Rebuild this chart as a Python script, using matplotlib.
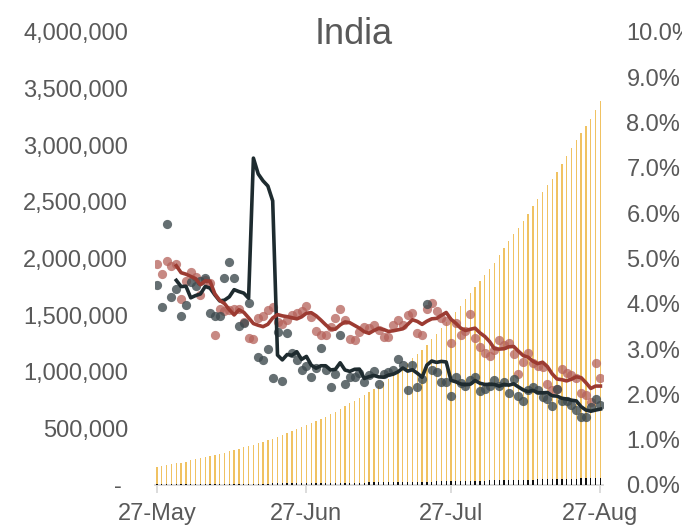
import numpy as np
import pandas as pd
import matplotlib
matplotlib.use("Agg")
import matplotlib.pyplot as plt
import matplotlib.dates as mdates
from matplotlib.ticker import FuncFormatter, MultipleLocator

plt.rcParams["font.family"] = ["Liberation Sans", "DejaVu Sans"]

# daily data, 27 May .. 27 Aug
dates = pd.date_range("2020-05-27", "2020-08-27", freq="D")

total_cases = [
    158086, 165386, 173491, 181827, 190609, 198370, 207191, 216824, 226713, 236184,
    246622, 257486, 265928, 276146, 286605, 297535, 308993, 320922, 332424, 343091,
    354065, 366946, 380532, 395048, 410451, 425282, 440215, 456183, 473105, 490401,
    508953, 528859, 548318, 566840, 585481, 604641, 625544, 648315, 673165, 697413,
    719665, 742417, 767296, 793802, 820916, 849553, 878254, 906752, 936181, 968857,
    1003832, 1038716, 1077781, 1118043, 1155338, 1193078, 1238635, 1288108, 1337024, 1385494,
    1435616, 1480073, 1531669, 1583792, 1638870, 1695988, 1750723, 1803695, 1855745, 1908254,
    1964536, 2027074, 2088611, 2153010, 2215074, 2268675, 2329638, 2396637, 2461190, 2526192,
    2589682, 2647663, 2702742, 2767273, 2836925, 2905825, 2975701, 3044940, 3106348, 3167323,
    3234474, 3310234, 3387500,
]

total_deaths = [
    4531, 4706, 4971, 5185, 5408, 5608, 5829, 6088, 6363, 6649,
    6946, 7207, 7473, 7750, 8102, 8498, 8884, 9195, 9520, 9900,
    11903, 12237, 12573, 12948, 13254, 13699, 14011, 14476, 14894, 15301,
    15685, 16095, 16475, 16893, 17400, 17834, 18213, 18655, 19268, 19693,
    20160, 20642, 21129, 21604, 22123, 22674, 23174, 23727, 24309, 24914,
    25602, 26273, 26816, 27497, 28084, 28732, 29861, 30601, 31358, 32063,
    32771, 33408, 34193, 34968, 35747, 36511, 37364, 38135, 38938, 39795,
    40699, 41585, 42518, 43379, 44386, 45257, 46091, 47033, 48040, 49036,
    49980, 50921, 51797, 52889, 53866, 54849, 55794, 56706, 57542, 58390,
    59449, 60472, 61529,
]

# daily rates in percent (the 16-Jun value is off the chart)
rate_dark = [
    4.42, 3.93, 5.76, 4.15, 4.33, 3.73, 3.97, 4.48, 4.40, 4.50,
    4.56, 3.79, 3.73, 3.74, 4.58, 4.93, 4.58, 3.52, 3.57, 4.01,
    20.4, 2.83, 2.76, 3.00, 2.37, 3.38, 2.30, 3.35, 2.92, 2.76,
    2.54, 2.62, 2.39, 2.58, 3.03, 2.54, 2.16, 2.45, 3.31, 2.23,
    2.39, 2.39, 2.47, 2.28, 2.43, 2.52, 2.23, 2.44, 2.50, 2.54,
    2.78, 2.65, 2.10, 2.65, 2.16, 2.33, 4.00, 2.54, 2.50, 2.27,
    2.27, 1.97, 2.38, 2.26, 2.19, 2.32, 2.38, 2.08, 2.13, 2.19,
    2.32, 2.19, 2.28, 2.04, 2.34, 1.97, 1.86, 2.10, 2.17, 2.10,
    1.94, 1.90, 1.74, 2.13, 1.86, 1.86, 1.77, 1.66, 1.49, 1.49,
    1.73, 1.90, 1.77,
]

rate_red = [
    4.87, 4.66, 4.95, 4.84, 4.88, 4.10, 4.50, 4.70, 4.60, 4.20,
    4.53, 4.46, 3.31, 3.88, 3.84, 3.86, 3.88, 3.88, 3.60, 3.24,
    3.22, 3.69, 3.73, 3.86, 3.93, 3.60, 3.55, 3.64, 3.75, 3.79,
    3.83, 3.95, 3.70, 3.41, 3.31, 3.31, 3.49, 3.68, 3.88, 3.64,
    3.22, 3.19, 3.38, 3.49, 3.46, 3.53, 3.42, 3.27, 3.27, 3.53,
    3.64, 3.53, 3.75, 3.79, 3.35, 3.31, 3.88, 4.01, 3.84, 3.68,
    3.63, 3.13, 3.57, 3.31, 3.41, 3.77, 3.25, 3.05, 2.92, 2.85,
    2.98, 3.20, 3.09, 3.13, 2.89, 2.45, 2.72, 2.91, 2.69, 2.63,
    2.60, 2.24, 2.10, 2.13, 2.55, 2.47, 2.43, 2.36, 2.04, 1.99,
    1.84, 2.69, 2.36,
]

x_ticks = ["2020-05-27", "2020-06-27", "2020-07-27", "2020-08-27"]

text_grey = "#595959"
axis_grey = "#d9d9d9"

dark_pct = np.array(rate_dark) / 100
red_pct = np.array(rate_red) / 100
# 5-day trailing averages
dark_avg = pd.Series(dark_pct).rolling(5).mean()
red_avg = pd.Series(red_pct).rolling(5).mean()

fig = plt.figure(figsize=(6.82, 5.27), dpi=100)
ax = fig.add_axes([0.2267, 0.0797, 0.6572, 0.8596])
ax2 = ax.twinx()

ax.bar(dates, total_cases, width=0.27, color="#f0c262", zorder=2)
ax.bar(dates, total_deaths, width=0.27, color="#111111", zorder=3)

ax2.scatter(dates, red_pct, s=44, color="#b5615a", alpha=0.75, linewidths=0, zorder=3)
ax2.scatter(dates, dark_pct, s=44, color="#3f4b4f", alpha=0.8, linewidths=0, zorder=4)
ax2.plot(dates, dark_avg, color="#1e2b2f", lw=2.6, zorder=5, solid_joinstyle="round")
ax2.plot(dates, red_avg, color="#9c3b32", lw=2.6, zorder=6, solid_joinstyle="round")

half = pd.Timedelta(hours=12)
ax.set_xlim(dates[0] - half, dates[-1] + half)
ax.set_ylim(0, 4000000)
ax2.set_ylim(0, 0.10)

ax.yaxis.set_major_locator(MultipleLocator(500000))
ax.yaxis.set_major_formatter(FuncFormatter(lambda v, p: "- " if v == 0 else f"{int(v):,}"))
ax2.yaxis.set_major_locator(MultipleLocator(0.01))
ax2.yaxis.set_major_formatter(FuncFormatter(lambda v, p: f"{v * 100:.1f}%"))

ax.set_xticks(pd.to_datetime(x_ticks))
ax.xaxis.set_major_formatter(mdates.DateFormatter("%d-%b"))

for a in (ax, ax2):
    for s in a.spines.values():
        s.set_visible(False)
ax.spines["bottom"].set_visible(True)
ax.spines["bottom"].set_color(axis_grey)
ax.spines["bottom"].set_linewidth(1.3)

ax.tick_params(axis="x", length=6, width=1.3, color=axis_grey, labelsize=17,
               labelcolor=text_grey, pad=7)
ax.tick_params(axis="y", length=0, labelsize=17, labelcolor=text_grey, pad=19)
ax2.tick_params(axis="y", length=0, labelsize=17, labelcolor=text_grey, pad=17)

fig.text(0.518, 0.935, "India", fontsize=26, color=text_grey, ha="center", va="center")

fig.savefig("out.png", dpi=100)
